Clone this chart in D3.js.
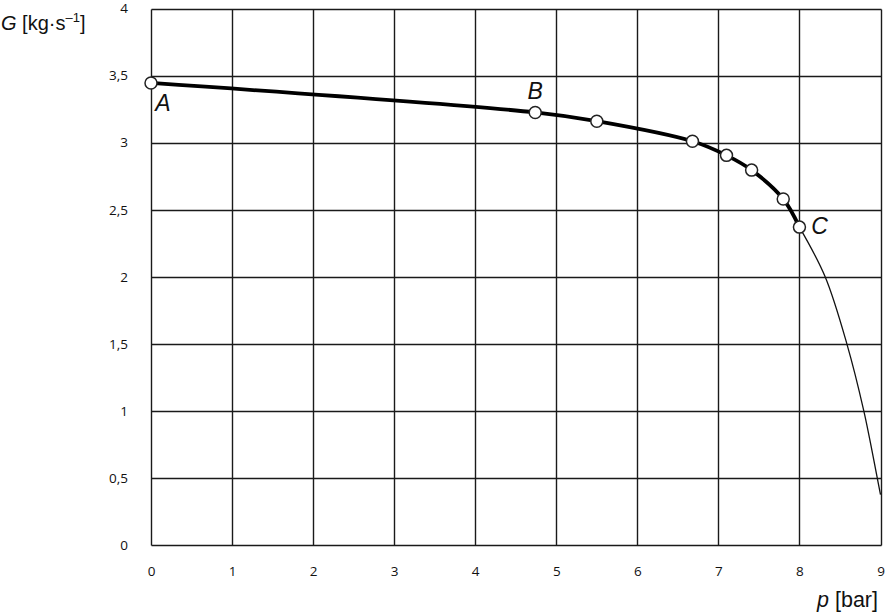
<!DOCTYPE html>
<html>
<head>
<meta charset="utf-8">
<script src="https://cdn.jsdelivr.net/npm/d3@7"></script>
<style>
  html, body { margin: 0; padding: 0; background: #fff; }
  svg { display: block; }
</style>
</head>
<body>
<svg></svg>
<script>
const width = 887;
const height = 612;

// measured points (p [bar], G [kg/s])
const measuredP = [0, 4.74, 5.5, 6.68, 7.1, 7.41, 7.8, 8.0];
const measuredG = [3.445, 3.225, 3.16, 3.01, 2.905, 2.795, 2.58, 2.37];

// thin extrapolated curve after point C
const tailP = [8.0, 8.317, 8.585, 8.794, 8.96, 9.0];
const tailG = [2.37, 2.0, 1.5, 1.0, 0.5, 0.375];

const pointLabels = [
    { name: "A", index: 0 },
    { name: "B", index: 1 },
    { name: "C", index: 7 },
];

const xTicks = [0, 1, 2, 3, 4, 5, 6, 7, 8, 9];
const yTicks = [0, 0.5, 1, 1.5, 2, 2.5, 3, 3.5, 4];

const tickFont = "'Open Sans', 'DejaVu Sans', sans-serif";
const labelFont = "'Liberation Sans', Arial, sans-serif";

const x = d3.scaleLinear().domain([0, 9]).range([151, 880.5]);
const y = d3.scaleLinear().domain([0, 4]).range([545, 8.5]);

// snap grid lines to pixel centres so they all look the same
const snap = v => Math.round(v) + 0.5;

const svg = d3.select("svg")
    .attr("width", width)
    .attr("height", height)
    .attr("viewBox", [0, 0, width, height]);

svg.append("rect")
    .attr("width", width)
    .attr("height", height)
    .attr("fill", "#ffffff");

// grid
const grid = svg.append("g")
    .attr("stroke", "#1a1a1a")
    .attr("stroke-width", 1.4);

grid.selectAll("line.v")
    .data(xTicks)
    .join("line")
    .classed("v", true)
    .attr("x1", d => snap(x(d)))
    .attr("x2", d => snap(x(d)))
    .attr("y1", snap(y(0)))
    .attr("y2", snap(y(4)));

grid.selectAll("line.h")
    .data(yTicks)
    .join("line")
    .classed("h", true)
    .attr("x1", snap(x(0)))
    .attr("x2", snap(x(9)))
    .attr("y1", d => snap(y(d)))
    .attr("y2", d => snap(y(d)));

// tick labels
const xAxis = d3.axisBottom(x)
    .tickValues(xTicks)
    .tickSize(0)
    .tickPadding(21)
    .tickFormat(d3.format("d"));

const yAxis = d3.axisLeft(y)
    .tickValues(yTicks)
    .tickSize(0)
    .tickPadding(23)
    .tickFormat(d => String(d).replace(".", ","));

svg.append("g")
    .attr("transform", `translate(0,${y(0)})`)
    .call(xAxis)
    .call(g => g.select(".domain").remove())
    .selectAll("text")
    .attr("font-family", tickFont)
    .attr("font-size", 13.5)
    .attr("fill", "#111");

svg.append("g")
    .attr("transform", `translate(${x(0)},0)`)
    .call(yAxis)
    .call(g => g.select(".domain").remove())
    .selectAll("text")
    .attr("font-family", tickFont)
    .attr("font-size", 13.5)
    .attr("fill", "#111");

// curves
const measured = measuredP.map((p, i) => ({ p, g: measuredG[i] }));
const tail = tailP.map((p, i) => ({ p, g: tailG[i] }));

const line = d3.line()
    .x(d => x(d.p))
    .y(d => y(d.g))
    .curve(d3.curveCatmullRom.alpha(0.5));

svg.append("path")
    .attr("d", line(tail))
    .attr("fill", "none")
    .attr("stroke", "#111")
    .attr("stroke-width", 1.3);

svg.append("path")
    .attr("d", line(measured))
    .attr("fill", "none")
    .attr("stroke", "#000")
    .attr("stroke-width", 3.8)
    .attr("stroke-linejoin", "round");

svg.selectAll("circle.pt")
    .data(measured)
    .join("circle")
    .classed("pt", true)
    .attr("cx", d => x(d.p))
    .attr("cy", d => y(d.g))
    .attr("r", 6)
    .attr("fill", "#fff")
    .attr("stroke", "#222")
    .attr("stroke-width", 1.5);

// point names
const labelOffsets = { A: [12, 28], B: [0, -13], C: [20, 7] };
svg.selectAll("text.pname")
    .data(pointLabels)
    .join("text")
    .classed("pname", true)
    .attr("x", d => x(measured[d.index].p) + labelOffsets[d.name][0])
    .attr("y", d => y(measured[d.index].g) + labelOffsets[d.name][1])
    .attr("text-anchor", "middle")
    .attr("font-family", labelFont)
    .attr("font-style", "italic")
    .attr("font-size", 23)
    .attr("fill", "#111")
    .text(d => d.name);

// axis titles
const yTitle = svg.append("text")
    .attr("x", 1)
    .attr("y", 30)
    .attr("font-family", labelFont)
    .attr("font-size", 20)
    .attr("fill", "#111");
yTitle.append("tspan").attr("font-style", "italic").text("G");
yTitle.append("tspan").text(" [kg·s");
yTitle.append("tspan").attr("font-size", 13).attr("dy", -8).text("–1");
yTitle.append("tspan").attr("dy", 8).text("]");

const xTitle = svg.append("text")
    .attr("x", 878)
    .attr("y", 607)
    .attr("text-anchor", "end")
    .attr("font-family", labelFont)
    .attr("font-size", 21.5)
    .attr("fill", "#111");
xTitle.append("tspan").attr("font-style", "italic").text("p");
xTitle.append("tspan").text(" [bar]");
</script>
</body>
</html>
